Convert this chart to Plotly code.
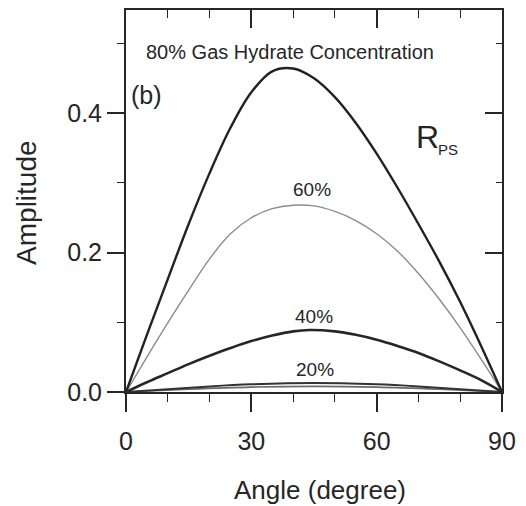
import plotly.graph_objects as go

# Incidence angle (degrees) and P-S reflection amplitude for each concentration
ang_80 = [0, 5, 10, 15, 20, 25, 30, 35, 40, 45, 50, 55, 60, 65, 70, 75, 80, 85, 90]
amp_80 = [0, 0.082, 0.162, 0.241, 0.314, 0.379, 0.430, 0.460, 0.464, 0.450, 0.423, 0.386,
          0.342, 0.293, 0.241, 0.187, 0.129, 0.066, 0]

ang_60 = [0, 5, 10, 15, 20, 25, 30, 35, 40, 45, 50, 55, 60, 65, 70, 75, 80, 85, 90]
amp_60 = [0, 0.050, 0.099, 0.146, 0.191, 0.227, 0.250, 0.263, 0.268, 0.267, 0.259, 0.246,
          0.227, 0.202, 0.170, 0.133, 0.092, 0.047, 0]

ang_40 = [0, 5, 10, 15, 20, 25, 30, 35, 40, 44, 50, 55, 60, 65, 70, 75, 80, 85, 90]
amp_40 = [0, 0.014, 0.027, 0.040, 0.052, 0.063, 0.073, 0.081, 0.087, 0.089, 0.087, 0.082,
          0.075, 0.066, 0.056, 0.044, 0.031, 0.017, 0]

ang_20 = [0, 10, 20, 30, 45, 60, 70, 80, 90]
amp_20 = [0, 0.004, 0.008, 0.011, 0.013, 0.011, 0.008, 0.004, 0]

ang_20b = [0, 15, 30, 45, 60, 75, 90]
amp_20b = [0, 0.004, 0.007, 0.008, 0.007, 0.004, 0]

ink = "#262626"
font_family = "Liberation Sans, Arial, sans-serif"

fig = go.Figure()

def curve(x, y, color, width):
    fig.add_trace(go.Scatter(
        x=x, y=y, mode="lines",
        line=dict(color=color, width=width, shape="spline", smoothing=1.0),
        hoverinfo="skip", showlegend=False,
    ))

curve(ang_20b, amp_20b, "#6a6a6a", 1.6)
curve(ang_20, amp_20, "#333333", 2.0)
curve(ang_40, amp_40, "#262626", 2.6)
curve(ang_60, amp_60, "#8c8c8c", 1.4)
curve(ang_80, amp_80, "#222222", 2.4)

# placeholder trace so the mirrored top/right axes are drawn
fig.add_trace(go.Scatter(x=[0], y=[0], xaxis="x2", yaxis="y2", mode="lines",
                         line=dict(width=0), hoverinfo="skip", showlegend=False))

x_range = [0, 90]
y_range = [0, 0.548]
tick_font = dict(family=font_family, size=25, color=ink)

fig.update_layout(
    width=526, height=506,
    margin=dict(l=126, r=21, t=10, b=114),
    paper_bgcolor="white", plot_bgcolor="white",
    font=dict(family=font_family, color=ink),
    xaxis=dict(
        range=x_range, tickmode="linear", tick0=0, dtick=30,
        ticks="outside", ticklen=18, tickwidth=1.5, tickcolor=ink,
        minor=dict(ticks="outside", ticklen=8, tickwidth=1.2, dtick=10, tickcolor=ink),
        showline=True, linewidth=2, linecolor=ink,
        showgrid=False, zeroline=False, tickfont=tick_font,
        ticklabelstandoff=8,
    ),
    xaxis2=dict(
        range=x_range, overlaying="x", side="top", tickmode="linear", tick0=0, dtick=30,
        ticks="inside", ticklen=18, tickwidth=1.5, tickcolor=ink,
        minor=dict(ticks="inside", ticklen=8, tickwidth=1.2, dtick=10, tickcolor=ink),
        showline=True, linewidth=2, linecolor=ink,
        showgrid=False, zeroline=False, showticklabels=False,
    ),
    yaxis=dict(
        range=y_range, tickmode="linear", tick0=0, dtick=0.2, tickformat=".1f",
        ticks="outside", ticklen=17, tickwidth=1.5, tickcolor=ink,
        minor=dict(ticks="outside", ticklen=7, tickwidth=1.2, dtick=0.1, tickcolor=ink),
        showline=True, linewidth=2, linecolor=ink,
        showgrid=False, zeroline=False, tickfont=tick_font,
    ),
    yaxis2=dict(
        range=y_range, overlaying="y", side="right", tickmode="linear", tick0=0, dtick=0.2,
        ticks="inside", ticklen=17, tickwidth=1.5, tickcolor=ink,
        minor=dict(ticks="inside", ticklen=6, tickwidth=1.2, dtick=0.1, tickcolor=ink),
        showline=True, linewidth=2, linecolor=ink,
        showgrid=False, zeroline=False, showticklabels=False,
    ),
)

def note(text, x, y, size, xanchor="center", xref="x", yref="y"):
    fig.add_annotation(text=text, x=x, y=y, xref=xref, yref=yref,
                       xanchor=xanchor, yanchor="middle", showarrow=False,
                       font=dict(family=font_family, size=size, color=ink))

note("80% Gas Hydrate Concentration", 39.2, 0.488, 20)
note("(b)", 0.6, 0.426, 25, xanchor="left")
note("R", 72.2, 0.366, 32)
note("PS", 74.3, 0.348, 15, xanchor="left")
note("60%", 44.6, 0.290, 19)
note("40%", 45.1, 0.108, 19)
note("20%", 45.3, 0.032, 19)

note("Angle (degree)", 0.517, -0.2565, 26, xref="paper", yref="paper")
fig.add_annotation(text="Amplitude", x=-0.2665, y=0.497, xref="paper", yref="paper",
                   textangle=-90, showarrow=False, xanchor="center", yanchor="middle",
                   font=dict(family=font_family, size=28, color=ink))

fig.write_html("out.html")
